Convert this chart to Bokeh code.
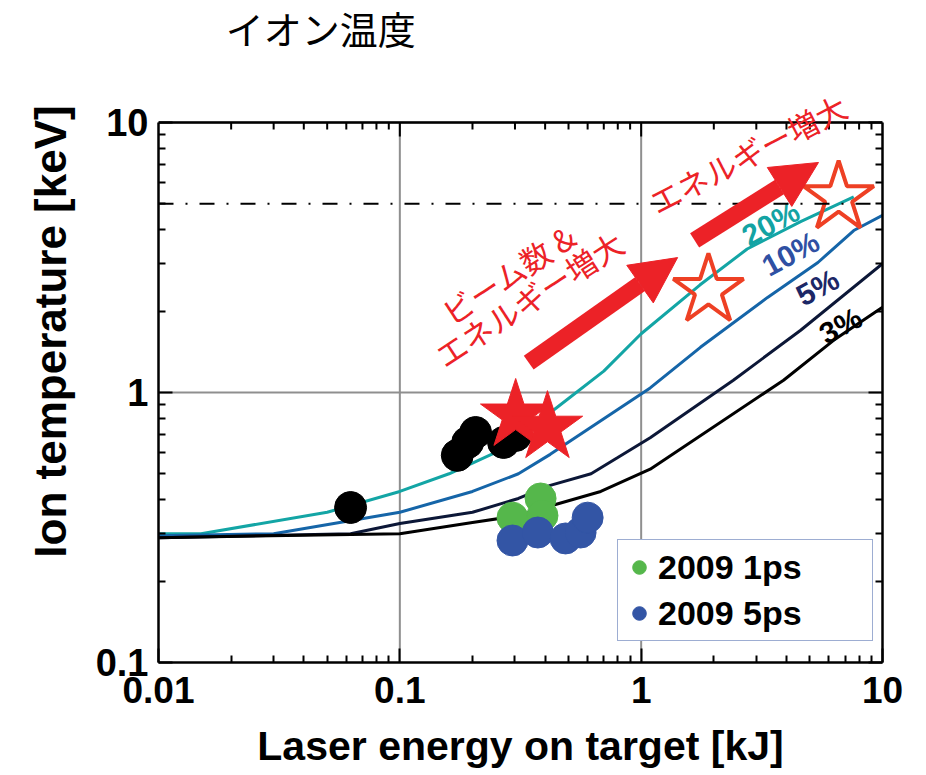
import math
from bokeh.plotting import figure
from bokeh.models import (LogAxis, FixedTicker, CustomJSTickFormatter, Legend, LegendItem,
                          Arrow, NormalHead, Span, Range1d, Label)
from bokeh.core.properties import value
from bokeh.embed import file_html
from bokeh.resources import INLINE

# ---------------- data ----------------
# simulated ion temperature curves, by laser-to-ion coupling efficiency
e_20 = [0.01, 0.015, 0.05, 0.1, 0.16, 0.27, 0.5, 0.7, 1.0, 1.75, 2.75, 4.6, 7.6]
t_20 = [0.30, 0.30, 0.36, 0.43, 0.50, 0.62, 0.95, 1.2, 1.65, 2.5, 3.4, 4.3, 5.3]
e_10 = [0.01, 0.03, 0.1, 0.2, 0.31, 0.42, 1.09, 1.76, 3.34, 5.4, 7.6, 10]
t_10 = [0.295, 0.30, 0.36, 0.43, 0.50, 0.59, 1.04, 1.47, 2.25, 3.03, 3.98, 4.53]
e_5 = [0.01, 0.0625, 0.1, 0.2, 0.31, 0.42, 0.62, 0.8, 1.09, 2.41, 4.58, 10]
t_5 = [0.29, 0.30, 0.327, 0.36, 0.405, 0.453, 0.50, 0.574, 0.68, 1.11, 1.70, 3.0]
e_3 = [0.01, 0.1, 0.2, 0.31, 0.42, 0.68, 1.09, 3.89, 6.27, 10]
t_3 = [0.29, 0.30, 0.33, 0.35, 0.38, 0.43, 0.52, 1.11, 1.56, 2.07]

# measured points
black_e = [0.0625, 0.173, 0.191, 0.206, 0.269, 0.302]
black_t = [0.375, 0.585, 0.653, 0.711, 0.653, 0.693]
g1ps_e = [0.293, 0.383, 0.390]
g1ps_t = [0.344, 0.405, 0.350]
b5ps_e = [0.293, 0.373, 0.486, 0.561, 0.600]
b5ps_t = [0.283, 0.303, 0.288, 0.303, 0.344]

# targets (stars)
star_e = [0.302, 0.409]
star_t = [0.822, 0.741]
ostar_e = [1.90, 6.58]
ostar_t = [2.39, 5.27]

ignition_t = 5.0

# curve labels
clab_text = ["20%", "10%", "5%", "3%"]
clab_e = [3.44, 4.16, 5.38, 6.70]
clab_t = [4.23, 3.27, 2.45, 1.77]
clab_color = ["#13a3a3", "#2f50a3", "#1c2766", "#000000"]

# annotations
title_text = "イオン温度"
title_e = 0.019
title_t = 22.5
note_text = ["ビーム数 &", "エネルギー増大", "エネルギー増大"]
note_e = [0.282, 0.342, 2.76]
note_t = [2.76, 2.23, 7.68]
note_angle = [0.58, 0.58, 0.48]
arrow_e0 = [0.342, 1.665]
arrow_t0 = [1.29, 3.66]
arrow_e1 = [1.416, 5.43]
arrow_t1 = [3.16, 7.11]

# axes
x_lim = (0.01, 10)
y_lim = (0.1, 10)
y_view_top = 28.3      # blank room above the plot box for the title and notes
x_ticks = [0.01, 0.1, 1, 10]
y_ticks = [0.1, 1, 10]
x_grid = [0.1, 1]
x_minor = [k * 10.0 ** e for e in (-2, -1, 0) for k in range(2, 10)]
y_minor = [k * 10.0 ** e for e in (-1, 0) for k in range(2, 10)]

RED = "#ec2227"

# ---------------- figure ----------------
p = figure(width=926, height=775, x_axis_type="log", y_axis_type="log",
           x_range=Range1d(*x_lim), y_range=Range1d(y_lim[0], y_view_top),
           output_backend="svg", toolbar_location=None, title_location=None,
           min_border_left=158, min_border_right=44, min_border_top=0, min_border_bottom=113)
p.outline_line_color = None

fmt = CustomJSTickFormatter(code="return tick.toString();")
xt = FixedTicker(ticks=x_ticks, minor_ticks=x_minor)
yt = FixedTicker(ticks=y_ticks, minor_ticks=y_minor)

xa = p.below[0]
ya = p.left[0]


def style_axis(ax, show_labels):
    ax.axis_line_width = 2.5
    ax.axis_line_color = "black"
    ax.major_tick_in = 14
    ax.major_tick_out = 0
    ax.minor_tick_in = 7
    ax.minor_tick_out = 0
    ax.major_tick_line_width = 2
    ax.minor_tick_line_width = 2
    ax.formatter = fmt
    if not show_labels:
        ax.major_label_text_font_size = "0px"
        ax.major_label_text_color = None
        ax.major_label_standoff = 0


xa.ticker = xt
ya.ticker = yt
ya.bounds = y_lim
style_axis(xa, True)
style_axis(ya, True)

right_ax = LogAxis(ticker=yt, bounds=y_lim)
style_axis(right_ax, False)
p.add_layout(right_ax, "right")

xa.major_label_text_font = "Liberation Sans"
xa.major_label_text_font_style = "bold"
xa.major_label_text_font_size = "37px"
xa.major_label_text_color = "black"
xa.major_label_standoff = 14
xa.axis_label = "Laser energy on target [kJ]"
xa.axis_label_text_font = "Liberation Sans"
xa.axis_label_text_font_style = "bold"
xa.axis_label_text_font_size = "41px"
xa.axis_label_text_color = "black"
xa.axis_label_standoff = 17

ya.major_label_text_font = "Liberation Sans"
ya.major_label_text_font_style = "bold"
ya.major_label_text_font_size = "38px"
ya.major_label_text_color = "black"
ya.major_label_standoff = 10
ya.axis_label = "Ion temperature [keV]"
ya.axis_label_text_font = "Liberation Sans"
ya.axis_label_text_font_style = "bold"
ya.axis_label_text_font_size = "44px"
ya.axis_label_text_color = "black"
ya.axis_label_standoff = 18

# grid: horizontal from the axis, vertical limited to the plot box
p.xgrid.visible = False
p.ygrid.grid_line_color = "#8f8f8f"
p.ygrid.grid_line_width = 2
p.segment(x0=x_grid, y0=y_lim[0], x1=x_grid, y1=y_lim[1], line_color="#8f8f8f", line_width=2)

# top edge of the plot box with inward ticks
p.add_layout(Span(location=y_lim[1], dimension="width", line_color="black", line_width=2.5))
p.ray(x=x_minor, y=y_lim[1], length=7, length_units="screen", angle=-math.pi / 2,
      line_color="black", line_width=2)
p.ray(x=x_grid, y=y_lim[1], length=14, length_units="screen", angle=-math.pi / 2,
      line_color="black", line_width=2)

# chart title
p.add_layout(Label(x=title_e, y=title_t, text=title_text, text_font="Noto Sans CJK JP",
                   text_font_size="38px", text_color="black",
                   text_align="left", text_baseline="middle"))

# ignition line
p.add_layout(Span(location=ignition_t, dimension="width", line_color="black",
                  line_width=2, line_dash="15 12 2 12"))

# curves
p.line(e_20, t_20, line_color="#13a5a5", line_width=3)
p.line(e_10, t_10, line_color="#1565a8", line_width=3)
p.line(e_5, t_5, line_color="#0c1737", line_width=3)
p.line(e_3, t_3, line_color="#000000", line_width=3)

# points
p.scatter(black_e, black_t, size=32, color="black")
g_r = p.scatter(g1ps_e, g1ps_t, size=31, color="#55b74b")
b_r = p.scatter(b5ps_e, b5ps_t, size=31, color="#3355a5")
p.scatter(star_e, star_t, marker="star", size=74, fill_color=RED, line_color=RED)
p.scatter(ostar_e, ostar_t, marker="star", size=74, fill_color=None, line_color="#ee4024", line_width=4)

# curve labels
for txt, xe, yv, col in zip(clab_text, clab_e, clab_t, clab_color):
    p.text(x=[xe], y=[yv], text=[txt], angle=0.5, text_color=col,
           text_font=value("Liberation Sans"), text_font_style="bold", text_font_size="30px",
           text_align="center", text_baseline="middle")

# red notes
for txt, xe, yv, ang in zip(note_text, note_e, note_t, note_angle):
    p.add_layout(Label(x=xe, y=yv, text=txt, angle=ang, text_color=RED,
                       text_font="Noto Sans CJK JP", text_font_size="31px",
                       text_align="center", text_baseline="middle"))

for x0, y0, x1, y1 in zip(arrow_e0, arrow_t0, arrow_e1, arrow_t1):
    p.add_layout(Arrow(end=NormalHead(size=46, fill_color=RED, line_color=RED, line_width=1),
                       x_start=x0, y_start=y0, x_end=x1, y_end=y1,
                       line_color=RED, line_width=17))

legend = Legend(items=[LegendItem(label="2009 1ps", renderers=[g_r]),
                       LegendItem(label="2009 5ps", renderers=[b_r])],
                location=(459, 21), padding=4, spacing=0, margin=0,
                glyph_width=34, glyph_height=46, label_standoff=2, label_width=210,
                label_text_font="Liberation Sans", label_text_font_style="bold",
                label_text_font_size="34px", label_text_color="black",
                border_line_color="#3b5ba5", border_line_width=1.5,
                background_fill_color="white", background_fill_alpha=1.0)
p.add_layout(legend)

open("out.html", "w").write(file_html(p, INLINE))
